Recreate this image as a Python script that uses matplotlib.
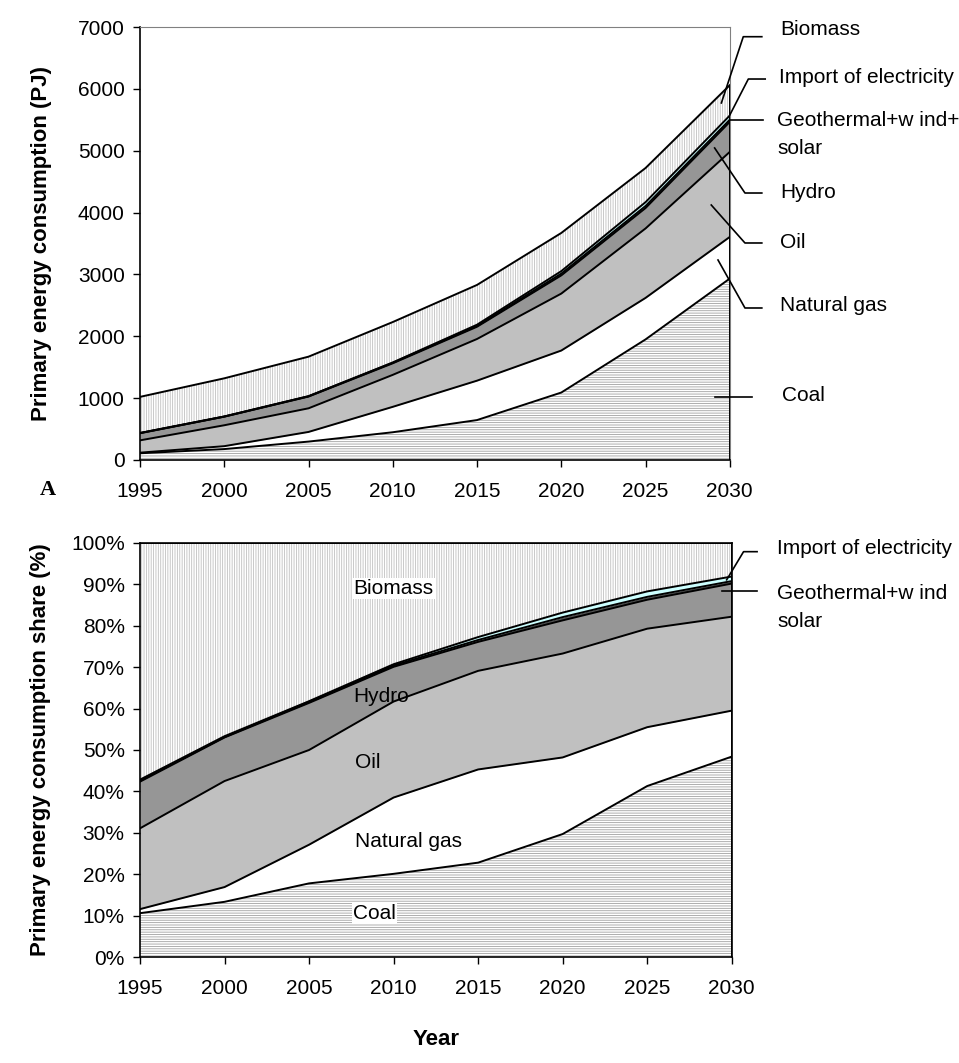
import matplotlib
matplotlib.use("Agg")
import matplotlib.pyplot as plt
import numpy as np

plt.rcParams['font.family'] = ['Liberation Sans', 'DejaVu Sans']
plt.rcParams['hatch.linewidth'] = 0.6

years = [1995, 2000, 2005, 2010, 2015, 2020, 2025, 2030]

# Primary energy consumption by source (PJ)
coal = [108, 176, 297, 448, 645, 1090, 1949, 2933]
natural_gas = [10, 47, 156, 411, 637, 679, 671, 673]
oil = [199, 338, 382, 517, 674, 921, 1123, 1375]
hydro = [115, 139, 190, 187, 198, 294, 330, 485]
geo_wind_solar = [3, 1, 4, 7, 13, 29, 33, 36]
electricity_import = [2, 3, 3, 7, 20, 40, 62, 67]
biomass = [583, 616, 638, 653, 643, 617, 552, 491]

sources = [coal, natural_gas, oil, hydro, geo_wind_solar, electricity_import, biomass]
# (face, hatch, hatch colour) for each source, bottom to top
styles = [
    ('white', '-------', '#a0a0a0'),
    ('white', None, 'white'),
    ('#c0c0c0', None, '#c0c0c0'),
    ('#969696', None, '#969696'),
    ('#555555', None, '#555555'),
    ('#ccffff', None, '#ccffff'),
    ('white', '|||||||', '#c0c0c0'),
]

FS = 15
FS_BOLD = 16


def draw_stack(ax, layers):
    base = np.zeros(len(years))
    for values, (face, hatch, hcol) in zip(layers, styles):
        top = base + np.asarray(values, dtype=float)
        ax.fill_between(years, base, top, facecolor=face, hatch=hatch,
                        edgecolor=hcol, linewidth=0, zorder=1)
        ax.plot(years, top, color='black', lw=1.4, zorder=3)
        base = top
    ax.vlines(years[-1], 0, base[-1], color='black', lw=1.4, zorder=3)
    return base


def leader(ax, pts, label, tx, ty):
    xs, ys = zip(*pts)
    ax.plot(xs, ys, color='black', lw=1.2, clip_on=False, zorder=5)
    ax.text(tx, ty, label, fontsize=FS, va='center', ha='left', linespacing=1.6)


def style_ticks(ax):
    ax.tick_params(axis='x', labelsize=FS, length=5, width=1, pad=11)
    ax.tick_params(axis='y', labelsize=FS, length=5, width=1, pad=6)


fig = plt.figure(figsize=(9.59, 10.63), dpi=100)

# --- A: absolute consumption ---
ax1 = fig.add_axes([0.146, 0.5673, 0.615, 0.4073])
total = draw_stack(ax1, sources)
ax1.set_xlim(1995, 2030)
ax1.set_ylim(0, 7000)
ax1.set_xticks(years)
ax1.set_yticks(range(0, 7001, 1000))
style_ticks(ax1)
ax1.set_ylabel('Primary energy consumption (PJ)', fontsize=FS_BOLD, fontweight='bold')
ax1.yaxis.set_label_coords(-0.15, 0.5)
for s in ['top', 'right']:
    ax1.spines[s].set_color('#808080')
for s in ['left', 'bottom']:
    ax1.spines[s].set_linewidth(1.2)
ax1.text(-0.156, -0.069, 'A', transform=ax1.transAxes, fontsize=16,
         fontweight='bold', family='Liberation Serif', ha='center', va='center')

leader(ax1, [(2029.5, 5772), (2030.8, 6843), (2031.9, 6843)], 'Biomass', 2033.0, 6952)
leader(ax1, [(2030.0, 5577), (2031.1, 6159), (2032.1, 6159)], 'Import of electricity', 2032.9, 6176)
leader(ax1, [(2030.0, 5497), (2031.96, 5497)], 'Geothermal+w ind+\nsolar', 2032.8, 5270)
leader(ax1, [(2029.1, 5044), (2030.9, 4316), (2031.9, 4316)], 'Hydro', 2033.0, 4330)
leader(ax1, [(2028.9, 4122), (2030.9, 3508), (2031.9, 3508)], 'Oil', 2033.0, 3508)
leader(ax1, [(2029.3, 3233), (2030.9, 2457), (2031.9, 2457)], 'Natural gas', 2033.0, 2500)
leader(ax1, [(2029.1, 1018), (2031.3, 1018)], 'Coal', 2033.1, 1050)

# --- B: shares ---
shares = [np.asarray(v, dtype=float) / total * 100 for v in sources]
ax2 = fig.add_axes([0.146, 0.0997, 0.617, 0.3895])
draw_stack(ax2, shares)
ax2.set_xlim(1995, 2030)
ax2.set_ylim(0, 100)
ax2.set_xticks(years)
ax2.set_yticks(range(0, 101, 10))
ax2.set_yticklabels([f'{v}%' for v in range(0, 101, 10)])
style_ticks(ax2)
ax2.set_ylabel('Primary energy consumption share (%)', fontsize=FS_BOLD, fontweight='bold')
ax2.yaxis.set_label_coords(-0.15, 0.5)
ax2.set_xlabel('Year', fontsize=FS_BOLD, fontweight='bold', labelpad=22)
for s in ax2.spines.values():
    s.set_linewidth(1.2)
    s.set_zorder(4)

box = dict(facecolor='white', edgecolor='none', pad=1)
ax2.text(2007.6, 89, 'Biomass', fontsize=FS, va='center', bbox=box)
ax2.text(2007.6, 63, 'Hydro', fontsize=FS, va='center')
ax2.text(2007.7, 47, 'Oil', fontsize=FS, va='center')
ax2.text(2007.7, 28, 'Natural gas', fontsize=FS, va='center')
ax2.text(2007.6, 10.6, 'Coal', fontsize=FS, va='center', bbox=box)

leader(ax2, [(2029.7, 91.1), (2030.7, 97.9), (2031.5, 97.9)], 'Import of electricity', 2032.7, 98.6)
leader(ax2, [(2029.4, 88.5), (2031.5, 88.5)], 'Geothermal+w ind\nsolar', 2032.7, 84.5)

fig.savefig('out.png', dpi=100)
